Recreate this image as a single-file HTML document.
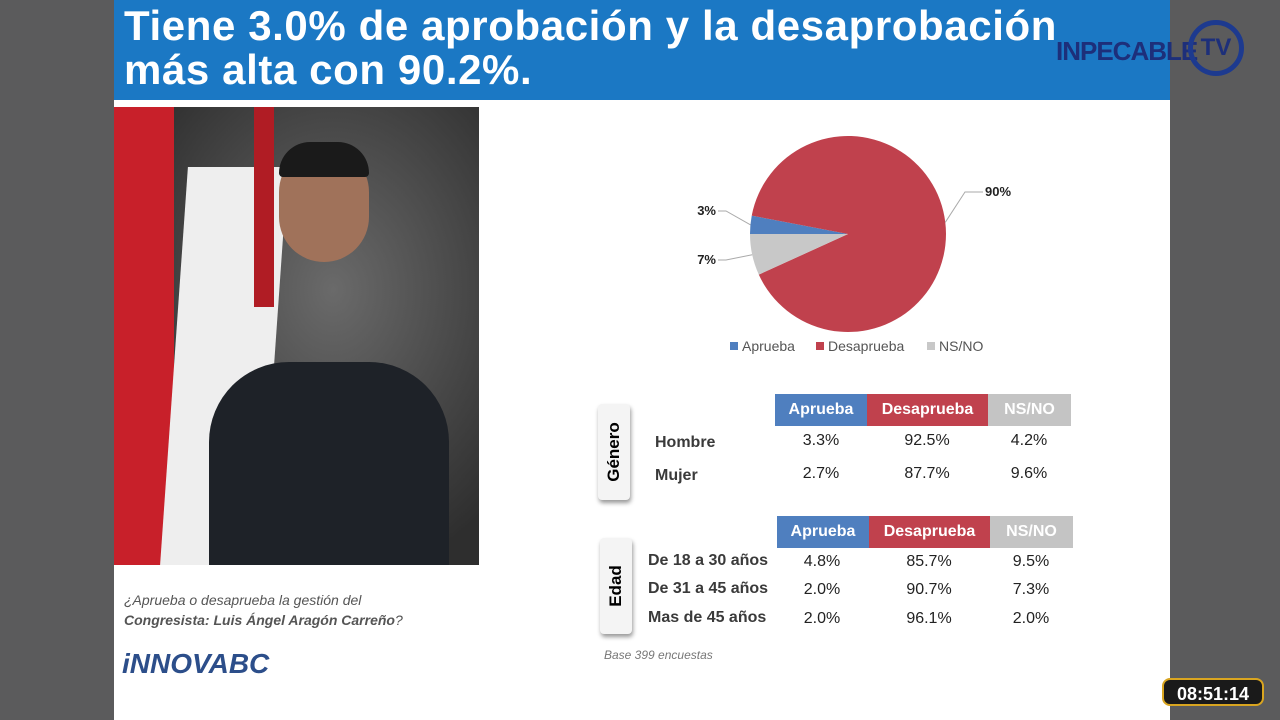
<!DOCTYPE html>
<html><head><meta charset="utf-8"><style>
body{margin:0;width:1280px;height:720px;background:#5b5b5c;position:relative;overflow:hidden;font-family:"Liberation Sans",sans-serif}
.slide{position:absolute;left:114px;top:0;width:1056px;height:720px;background:#fff}
.hdr{position:absolute;left:0;top:0;width:1056px;height:100px;background:#1b78c4;color:#fff;font-weight:bold;font-size:42px;line-height:44px;padding:4px 0 0 10px;box-sizing:border-box;letter-spacing:0.6px;white-space:nowrap;overflow:hidden}
.photo{position:absolute;left:0;top:107px;width:365px;height:458px;background:radial-gradient(ellipse at 60% 40%,#6a6a6a,#2e2e2e 75%)}
.abs{position:absolute}
.th{color:#fff;font-weight:bold;font-size:16px;text-align:center;height:32px}
.side{position:absolute;width:32px;background:#f4f4f4;border-radius:4px;box-shadow:1px 3px 4px #999}
.side span{position:absolute;left:50%;top:50%;transform:translate(-50%,-50%) rotate(-90deg);font-weight:bold;font-size:17px;white-space:nowrap}
.rl{position:absolute;font-weight:bold;font-size:16px;color:#3a3a3a}
.v{position:absolute;font-size:16px;color:#222;text-align:center;width:90px}
</style></head><body>
<div class="slide">
 <div class="hdr">Tiene 3.0% de aprobación y la desaprobación<br>más alta con 90.2%.</div>
 <div class="photo">
  <div class="abs" style="left:0;top:0;width:60px;height:458px;background:#c8202a"></div>
  <div class="abs" style="left:60px;top:60px;width:100px;height:398px;background:#eee;transform:skewX(-4deg)"></div>
  <div class="abs" style="left:140px;top:0;width:20px;height:200px;background:#b01c24"></div>
  <div class="abs" style="left:95px;top:255px;width:240px;height:203px;background:#1e2228;border-radius:80px 80px 0 0"></div>
  <div class="abs" style="left:165px;top:40px;width:90px;height:115px;background:#a0725a;border-radius:45px"></div>
  <div class="abs" style="left:165px;top:35px;width:90px;height:35px;background:#1a1a1a;border-radius:40px 40px 5px 5px"></div>
 </div>
 <div class="abs" style="left:10px;top:590px;font-size:14px;color:#555;font-style:italic;line-height:20px">¿Aprueba o desaprueba la gestión del<br><b>Congresista: Luis Ángel Aragón Carreño</b>?</div>
 <div class="abs" style="left:8px;top:648px;font-size:28px;font-weight:bold;color:#2c4e8a;font-style:italic">iNNOVABC</div>

 <svg class="abs" style="left:566px;top:120px" width="460" height="250" id="pie"></svg>

 <div class="side" style="left:484px;top:404px;height:96px"><span>Género</span></div>
 <div class="abs th" style="left:661px;top:394px;width:92px;background:#4f7fbf;line-height:32px">Aprueba</div>
 <div class="abs th" style="left:753px;top:394px;width:121px;background:#c0414d;line-height:32px">Desaprueba</div>
 <div class="abs th" style="left:874px;top:394px;width:83px;background:#c4c4c4;line-height:32px">NS/NO</div>
 <div class="rl" style="left:541px;top:434px">Hombre</div>
 <div class="rl" style="left:541px;top:467px">Mujer</div>
 <div class="v" style="left:662px;top:432px">3.3%</div><div class="v" style="left:768px;top:432px">92.5%</div><div class="v" style="left:870px;top:432px">4.2%</div>
 <div class="v" style="left:662px;top:465px">2.7%</div><div class="v" style="left:768px;top:465px">87.7%</div><div class="v" style="left:870px;top:465px">9.6%</div>

 <div class="side" style="left:486px;top:538px;height:96px"><span>Edad</span></div>
 <div class="abs th" style="left:663px;top:516px;width:92px;background:#4f7fbf;line-height:32px">Aprueba</div>
 <div class="abs th" style="left:755px;top:516px;width:121px;background:#c0414d;line-height:32px">Desaprueba</div>
 <div class="abs th" style="left:876px;top:516px;width:83px;background:#c4c4c4;line-height:32px">NS/NO</div>
 <div class="rl" style="left:534px;top:552px">De 18 a 30 años</div>
 <div class="rl" style="left:534px;top:580px">De 31 a 45 años</div>
 <div class="rl" style="left:534px;top:609px">Mas de 45 años</div>
 <div class="v" style="left:663px;top:553px">4.8%</div><div class="v" style="left:770px;top:553px">85.7%</div><div class="v" style="left:872px;top:553px">9.5%</div>
 <div class="v" style="left:663px;top:581px">2.0%</div><div class="v" style="left:770px;top:581px">90.7%</div><div class="v" style="left:872px;top:581px">7.3%</div>
 <div class="v" style="left:663px;top:610px">2.0%</div><div class="v" style="left:770px;top:610px">96.1%</div><div class="v" style="left:872px;top:610px">2.0%</div>
 <div class="abs" style="left:490px;top:648px;font-size:12px;font-style:italic;color:#777">Base 399 encuestas</div>
</div>
<div class="abs" style="left:1056px;top:36px;font-size:26px;font-weight:bold;color:#1d2f7a;letter-spacing:-1px">INPECABLE</div>
<div class="abs" style="left:1188px;top:20px;width:56px;height:56px;border:5px solid #1d3a8f;border-radius:50%;box-sizing:border-box;color:#1d2f7a;font-weight:bold;font-size:24px;text-align:center;line-height:46px">TV</div>
<div class="abs" style="left:1162px;top:678px;width:102px;height:28px;background:#1a1a1a;border:2px solid #d9a520;border-radius:8px;color:#fff;font-weight:bold;font-size:18px;text-align:center;line-height:28px;box-sizing:border-box">08:51:14</div>
<script>
const labels=["Aprueba","Desaprueba","NS/NO"];
const values=[3.0,90.2,6.8];
const shown=["3%","90%","7%"];
const colors=["#4f7fbf","#c0414d","#c8c8c8"];
const svg=document.getElementById('pie');
const NS="http://www.w3.org/2000/svg";
const cx=168,cy=114,r=98;
const total=values.reduce((a,b)=>a+b,0);
function pt(a,rr){const t=(a-90)*Math.PI/180;return [cx+rr*Math.cos(t),cy+rr*Math.sin(t)];}
let a0=270;
const mids=[];
values.forEach((v,i)=>{
 const sweep=v/total*360,a1=a0+sweep;
 const p0=pt(a0,r),p1=pt(a1,r);
 const p=document.createElementNS(NS,'path');
 p.setAttribute('d',`M${cx},${cy} L${p0[0]},${p0[1]} A${r},${r} 0 ${sweep>180?1:0} 1 ${p1[0]},${p1[1]} Z`);
 p.setAttribute('fill',colors[i]);
 
 
 svg.appendChild(p);
 mids.push(a0+sweep/2);
 a0=a1;
});
const lblPos=[[36,95],[307,76],[36,144]];
mids.forEach((m,i)=>{
 const e=pt(m,r);const lp=lblPos[i];
 const ln=document.createElementNS(NS,'polyline');
 const lx=i==1?lp[0]-22:lp[0]+10;
 ln.setAttribute('points',`${e[0]},${e[1]} ${lx},${lp[1]-4} ${i==1?lp[0]-4:lp[0]+2},${lp[1]-4}`);
 ln.setAttribute('fill','none');ln.setAttribute('stroke','#aaa');
 svg.appendChild(ln);
 const t=document.createElementNS(NS,'text');
 t.setAttribute('x',i==1?lp[0]-2:lp[0]);t.setAttribute('y',lp[1]);
 t.setAttribute('text-anchor',i==1?'start':'end');
 t.setAttribute('font-size','13');t.setAttribute('font-weight','bold');t.setAttribute('fill','#222');
 
 
 t.textContent=shown[i];svg.appendChild(t);
});
const lx=[50,136,247];
labels.forEach((l,i)=>{
 const s=document.createElementNS(NS,'rect');
 s.setAttribute('x',lx[i]);s.setAttribute('y',222);s.setAttribute('width',8);s.setAttribute('height',8);s.setAttribute('fill',colors[i]);
 svg.appendChild(s);
 const t=document.createElementNS(NS,'text');
 t.setAttribute('x',lx[i]+12);t.setAttribute('y',231);t.setAttribute('font-size','14');t.setAttribute('fill','#555');
 
 
 t.textContent=l;svg.appendChild(t);
});
</script>
</body></html>
